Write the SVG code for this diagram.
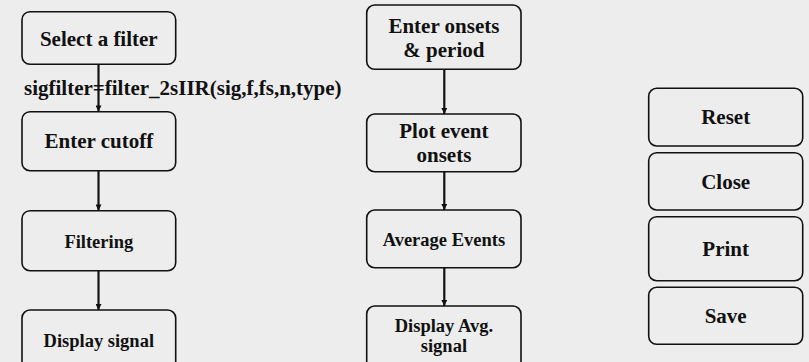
<svg xmlns="http://www.w3.org/2000/svg" width="809" height="362" viewBox="0 0 809 362">
<style>
.box{fill:none;stroke:#111;stroke-width:1.6}
.t{font-family:"Liberation Serif",serif;font-weight:bold;font-size:21px;fill:#111;text-anchor:middle}
.s{font-size:18.5px}
.lbl{font-family:"Liberation Serif",serif;font-weight:bold;font-size:21px;fill:#111}
.c{stroke:#111;stroke-width:2.2;fill:none;marker-end:url(#ah)}
</style>
<defs>
<marker id="ah" viewBox="0 0 10 10" refX="10" refY="5" markerWidth="7" markerHeight="6" markerUnits="userSpaceOnUse" orient="auto">
<path d="M0,0 L10,5 L0,10 z" fill="#111"/>
</marker>
</defs>
<rect width="809" height="362" fill="#ededed"/>
<g id="connectors">
<line class="c" x1="98.5" y1="64.5" x2="98.5" y2="111.5"/>
<line class="c" x1="98.5" y1="171" x2="98.5" y2="210.5"/>
<line class="c" x1="98.5" y1="271" x2="98.5" y2="310"/>
<line class="c" x1="444.3" y1="69.5" x2="444.3" y2="114"/>
<line class="c" x1="444.3" y1="172" x2="444.3" y2="210"/>
<line class="c" x1="444.3" y1="268" x2="444.3" y2="306"/>
<text class="lbl" x="24" y="94.5">sigfilter=filter_2sIIR(sig,f,fs,n,type)</text>
</g>
<g id="select-filter"><rect class="box" x="22" y="11.7" width="153.7" height="52.6" rx="8"/><text class="t" x="98.8" y="45.7">Select a filter</text></g>
<g id="enter-cutoff"><rect class="box" x="22" y="111.7" width="153.7" height="59" rx="8"/><text class="t" x="98.8" y="147.7">Enter cutoff</text></g>
<g id="filtering"><rect class="box" x="22" y="210.7" width="153.7" height="60" rx="8"/><text class="t s" x="98.8" y="248">Filtering</text></g>
<g id="display-signal"><rect class="box" x="22" y="310" width="153.7" height="62" rx="8"/><text class="t s" x="98.8" y="346.5">Display signal</text></g>
<g id="enter-onsets"><rect class="box" x="366.7" y="5" width="154.3" height="64.3" rx="8"/><text class="t" x="443.9" y="33.3">Enter onsets</text><text class="t" x="443.9" y="56.7">&amp; period</text></g>
<g id="plot-event"><rect class="box" x="366.7" y="114" width="154.3" height="57.7" rx="8"/><text class="t" x="443.9" y="137.7">Plot event</text><text class="t" x="443.9" y="162.3">onsets</text></g>
<g id="average-events"><rect class="box" x="366.7" y="210" width="154.3" height="57.7" rx="8"/><text class="t s" x="443.9" y="245.7">Average Events</text></g>
<g id="display-avg"><rect class="box" x="366.7" y="306" width="154.3" height="64" rx="8"/><text class="t s" x="443.9" y="332.3">Display Avg.</text><text class="t s" x="443.9" y="352.3">signal</text></g>
<g id="reset"><rect class="box" x="648.7" y="88.3" width="154" height="57.7" rx="8"/><text class="t" x="725.7" y="124.3">Reset</text></g>
<g id="close"><rect class="box" x="648.7" y="152.7" width="154" height="57.3" rx="8"/><text class="t" x="725.7" y="189">Close</text></g>
<g id="print"><rect class="box" x="648.7" y="216.7" width="154" height="64" rx="8"/><text class="t" x="725.7" y="255.7">Print</text></g>
<g id="save"><rect class="box" x="648.7" y="287.3" width="154" height="57" rx="8"/><text class="t" x="725.7" y="323.3">Save</text></g>
</svg>
